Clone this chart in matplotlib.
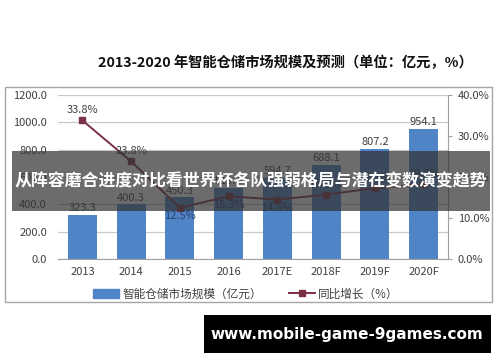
import matplotlib
matplotlib.use('Agg')
import matplotlib.pyplot as plt
from matplotlib.patches import Rectangle, Patch
from matplotlib.lines import Line2D

plt.rcParams['font.family'] = ['Noto Sans CJK SC', 'DejaVu Sans']
plt.rcParams['axes.unicode_minus'] = False

# data
years = ['2013', '2014', '2015', '2016', '2017E', '2018F', '2019F', '2020F']
market_size = [323.3, 400.3, 450.3, 519.4, 594.7, 688.1, 807.2, 954.1]   # 亿元
growth = [33.8, 23.8, 12.5, 15.3, 14.5, 15.7, 17.3, 18.2]               # %
left_ticks = [0, 200, 400, 600, 800, 1000, 1200]
right_ticks = [0, 10, 20, 30, 40]

bar_color = '#4f85c6'
line_color = '#7b3045'
grid_color = '#c8c8c8'
text_color = '#404040'

W, H = 500, 362
fig = plt.figure(figsize=(5, 3.62), dpi=100)

def fx(px):
    return px / W

def fy(py):
    return 1 - py / H

# outer frame of the chart
fig.patches.append(Rectangle((fx(5), fy(302)), fx(492) - fx(5), fy(87) - fy(302),
                             transform=fig.transFigure, fill=False,
                             edgecolor='#a6a6a6', linewidth=1.0, zorder=1))

fig.text(fx(285), fy(63), '2013-2020 年智能仓储市场规模及预测（单位：亿元，%）',
         ha='center', va='center', fontsize=10.3, fontweight='bold', color='#111111')

ax = fig.add_axes([fx(58), fy(259), fx(448) - fx(58), fy(95) - fy(259)], zorder=2)
x = range(len(years))
ax.bar(x, market_size, width=0.59, color=bar_color, zorder=2)
ax.set_ylim(0, 1200)
ax.set_xlim(-0.5, len(years) - 0.5)
ax.set_yticks(left_ticks)
ax.set_yticklabels([f'{v:.1f}' for v in left_ticks])
ax.set_xticks(list(x))
ax.set_xticklabels(years)
ax.tick_params(axis='both', length=0, labelsize=8, colors=text_color)
ax.tick_params(axis='y', pad=8)
ax.tick_params(axis='x', pad=6)
ax.grid(axis='y', color=grid_color, linewidth=0.9)
ax.set_axisbelow(True)
for s in ['top', 'left', 'right']:
    ax.spines[s].set_visible(False)
ax.spines['bottom'].set_color('#a0a0a0')

for i, v in enumerate(market_size):
    ax.text(i, v + 12, f'{v:.1f}', ha='center', va='bottom', fontsize=8, color=text_color)

ax2 = ax.twinx()
ax2.plot(list(x), growth, color=line_color, linewidth=1.4, marker='s', markersize=4.5,
         markerfacecolor=line_color, markeredgecolor=line_color, zorder=3)
ax2.set_ylim(0, 40)
ax2.set_yticks(right_ticks)
ax2.set_yticklabels([f'{v:.1f}%' for v in right_ticks])
ax2.tick_params(axis='y', length=3, color='#a0a0a0', labelsize=8, labelcolor=text_color, pad=4)
for s in ['top', 'left', 'bottom']:
    ax2.spines[s].set_visible(False)
ax2.spines['right'].set_color('#a0a0a0')

above = [True, True, False, False, False, True, True, True]
for i, v in enumerate(growth):
    if above[i]:
        ax2.text(i, v + 1.3, f'{v}%', ha='center', va='bottom', fontsize=8, color=text_color)
    else:
        ax2.text(i, v - 0.9, f'{v}%', ha='center', va='top', fontsize=8, color='#2b3f6b')

handles = [Patch(facecolor=bar_color, edgecolor=bar_color),
           Line2D([0], [0], color=line_color, marker='s', markersize=4.5, linewidth=1.4)]
labels = ['智能仓储市场规模（亿元）', '同比增长（%）']
fig.legend(handles, labels, loc='center', bbox_to_anchor=(fx(246), fy(294)), ncol=2,
           frameon=False, fontsize=8.4, handlelength=2.2, handletextpad=0.3,
           columnspacing=2.3, labelcolor=text_color)

# overlay banner across the chart
fig.patches.append(Rectangle((fx(12), fy(211)), fx(490) - fx(12), fy(151) - fy(211),
                             transform=fig.transFigure, facecolor='#333333', alpha=0.72,
                             edgecolor='none', zorder=10))
fig.text(fx(251), fy(181), '从阵容磨合进度对比看世界杯各队强弱格局与潜在变数演变趋势',
         ha='center', va='center', fontsize=12.2, fontweight='bold', color='white', zorder=11)

# watermark box
fig.patches.append(Rectangle((fx(204), fy(353)), fx(491) - fx(204), fy(315) - fy(353),
                             transform=fig.transFigure, facecolor='black',
                             edgecolor='none', zorder=10))
fig.text(fx(347), fy(334), 'www.mobile-game-9games.com', ha='center', va='center',
         fontsize=11, fontweight='bold', color='white', family='DejaVu Sans', zorder=11)

fig.savefig('out.png', dpi=100)
